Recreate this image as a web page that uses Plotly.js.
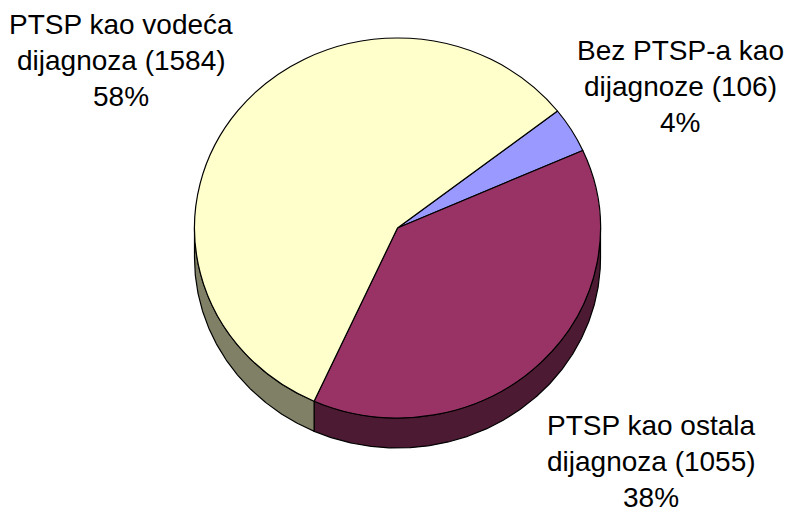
<!DOCTYPE html>
<html><head><meta charset="utf-8">
<script src="https://cdn.plot.ly/plotly-3.0.1.min.js"></script>
<style>html,body{margin:0;padding:0;background:#fff}#chart{width:786px;height:510px}</style>
</head><body><div id="chart"></div>
<script>
const categories = ['Bez PTSP-a kao dijagnoze', 'PTSP kao ostala dijagnoza', 'PTSP kao vodeća dijagnoza'];
const counts = [106, 1055, 1584];
const percents = ['4%', '38%', '58%'];
const topColors = ['#9999FF', '#993366', '#FFFFCC'];
const sideColors = ['#4D4D80', '#4D1A33', '#808066'];
const labelLines = [
  ['Bez PTSP-a kao', 'dijagnoze (106)', '4%'],
  ['PTSP kao ostala', 'dijagnoza (1055)', '38%'],
  ['PTSP kao vodeća', 'dijagnoza (1584)', '58%']
];
const labelX = [680, 651, 121];
const labelY = [[50, 86, 122], [425, 461, 497], [24, 60, 96]];

const W = 786, H = 510, cx = 397.5, cy = 228, rx = 203, ry = 190, depth = 30, rotation = 52, fontSize = 28;
const total = counts.reduce((a, b) => a + b, 0);

// Side wall of the disc, built from the same values as the slices.
const traces = [];
let start = rotation;
counts.forEach((c, i) => {
  const end = start + c / total * 360;
  const a = Math.max(start, 90), b = Math.min(end, 270);
  if (b > a) {
    const xs = [], ys = [];
    const n = Math.ceil(b - a) * 2;
    for (let k = 0; k <= n; k++) {
      const t = (a + (b - a) * k / n) * Math.PI / 180;
      xs.push(cx + rx * Math.sin(t)); ys.push(cy - ry * Math.cos(t));
    }
    for (let k = n; k >= 0; k--) {
      const t = (a + (b - a) * k / n) * Math.PI / 180;
      xs.push(cx + rx * Math.sin(t)); ys.push(cy - ry * Math.cos(t) + depth);
    }
    xs.push(xs[0]); ys.push(ys[0]);
    traces.push({type: 'scatter', mode: 'lines', x: xs, y: ys, fill: 'toself', fillcolor: sideColors[i],
      line: {color: '#000', width: 1.2}, hoverinfo: 'skip', showlegend: false});
  }
  start = end;
});

traces.push({
  type: 'pie', labels: categories, values: counts, sort: false, direction: 'clockwise', rotation: rotation,
  textinfo: 'none', showlegend: false,
  marker: {colors: topColors, line: {color: '#000', width: 1.2}},
  domain: {x: [(cx - rx) / W, (cx + rx) / W], y: [1 - (cy + rx) / H, 1 - (cy - rx) / H]}
});

const annotations = [];
labelLines.forEach((lines, i) => lines.forEach((t, j) => annotations.push({
  xref: 'x', yref: 'y', x: labelX[i], y: labelY[i][j], text: t, showarrow: false,
  xanchor: 'center', yanchor: 'middle', font: {family: 'Liberation Sans, Arial, sans-serif', size: fontSize, color: '#000'}
})));

const layout = {
  width: W, height: H, margin: {l: 0, r: 0, t: 0, b: 0}, paper_bgcolor: '#fff', plot_bgcolor: '#fff', showlegend: false,
  xaxis: {range: [0, W], visible: false, fixedrange: true},
  yaxis: {range: [H, 0], visible: false, fixedrange: true},
  annotations: annotations
};

Plotly.newPlot('chart', traces, layout, {displayModeBar: false, staticPlot: true}).then(gd => {
  const k = ry / rx;
  const pl = gd.querySelector('.pielayer');
  pl.setAttribute('transform', `translate(0 ${cy}) scale(1 ${k}) translate(0 ${-cy})`);
});
</script></body></html>
